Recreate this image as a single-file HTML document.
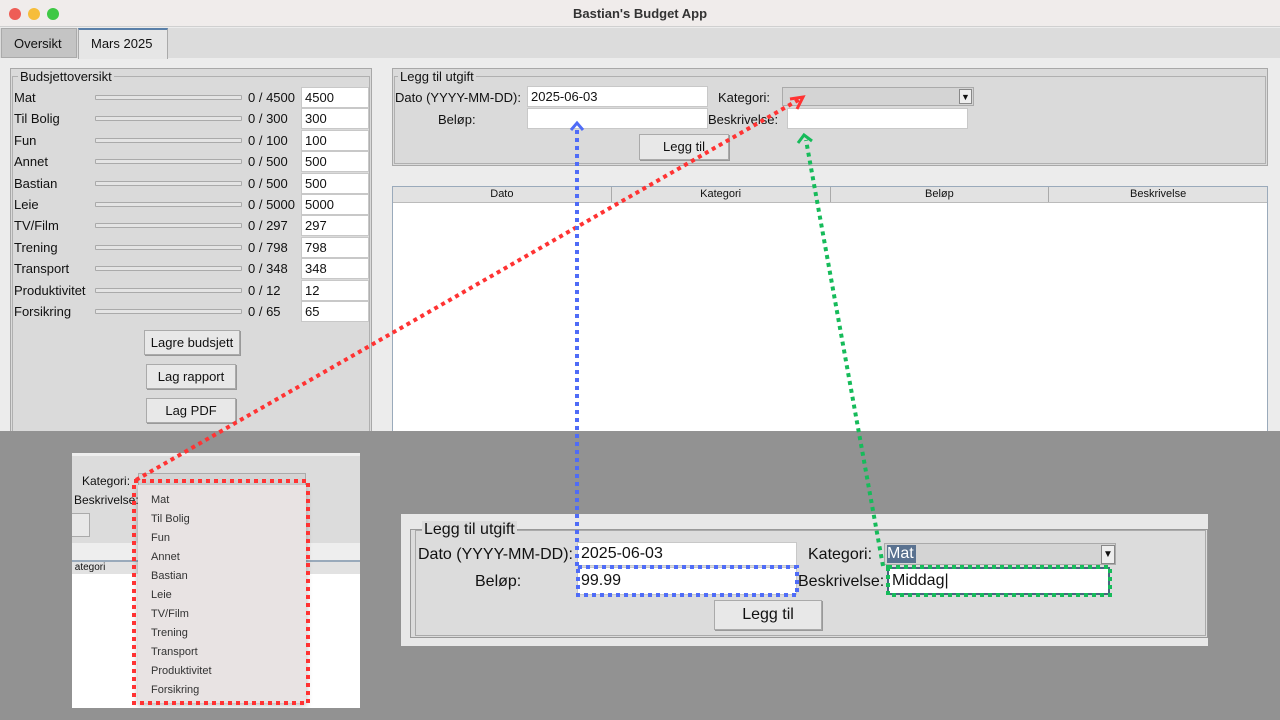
<!DOCTYPE html>
<html><head><meta charset="utf-8"><style>
*{box-sizing:border-box}
body{margin:0;width:1280px;height:720px;position:relative;overflow:hidden;background:#ececec;font-family:"Liberation Sans",sans-serif;color:#111}
.a{position:absolute}
.t{position:absolute;font-size:13px;white-space:nowrap}
.e{position:absolute;background:#fff;border:1px solid #c8c8c8;font-size:13px;padding:0 3px;line-height:19px}
.bar{position:absolute;height:5px;background:#e4e4e4;border:1px solid #aaa;border-radius:1px}
.btn{position:absolute;background:#e8e8e8;border:1px solid #aaa;box-shadow:1px 1px 0 #999;font-size:13px;text-align:center}
.fr{position:absolute;border:1px solid #a8a8a8;background:#dadada}
</style></head><body>
<div class="a" style="left:0;top:0;width:1280px;height:27px;background:#f0eceb;border-bottom:1px solid #d0d0d0"></div>
<div class="a" style="left:9px;top:8px;width:12px;height:12px;border-radius:50%;background:#ee5d56"></div>
<div class="a" style="left:28px;top:8px;width:12px;height:12px;border-radius:50%;background:#f6bd3a"></div>
<div class="a" style="left:47px;top:8px;width:12px;height:12px;border-radius:50%;background:#3ec845"></div>
<div class="t" style="left:0;width:1280px;text-align:center;top:6px;font-weight:bold;color:#333">Bastian's Budget App</div>
<div class="a" style="left:0;top:28px;width:1280px;height:30px;background:#dcdcdc"></div>
<div class="a" style="left:1px;top:28px;width:76px;height:30px;background:#c4c4c4;border:1px solid #aaa"></div>
<div class="t" style="left:14px;top:36px">Oversikt</div>
<div class="a" style="left:78px;top:28px;width:90px;height:31px;background:#e6e6e6;border:1px solid #aaa;border-top:2px solid #5a7fa8;border-bottom:none"></div>
<div class="t" style="left:91px;top:36px">Mars 2025</div>

<div class="fr" style="left:10px;top:68px;width:362px;height:370px"></div>
<div class="a" style="left:12px;top:76px;width:358px;height:360px;border:1px solid #b0b0b0"></div>
<div class="t" style="left:18px;top:69px;background:#dadada;padding:0 2px">Budsjettoversikt</div>
<div id="rows"></div>

<div class="btn" style="left:144px;top:330px;width:96px;height:25px;line-height:23px">Lagre budsjett</div>
<div class="btn" style="left:146px;top:364px;width:90px;height:25px;line-height:23px">Lag rapport</div>
<div class="btn" style="left:146px;top:398px;width:90px;height:25px;line-height:23px">Lag PDF</div>

<div class="fr" style="left:392px;top:68px;width:876px;height:98px"></div>
<div class="a" style="left:394px;top:76px;width:872px;height:88px;border:1px solid #b0b0b0"></div>
<div class="t" style="left:398px;top:69px;background:#dadada;padding:0 2px">Legg til utgift</div>
<div class="t" style="left:395px;top:90px">Dato (YYYY-MM-DD):</div>
<div class="e" style="left:527px;top:86px;width:181px;height:21px">2025-06-03</div>
<div class="t" style="left:718px;top:90px">Kategori:</div>
<div class="a" style="left:782px;top:87px;width:192px;height:19px;background:#d4d4d4;border:1px solid #aaa"></div>
<div class="a" style="left:959px;top:89px;width:13px;height:15px;background:#eee;border:1px solid #888;font-size:9px;text-align:center;line-height:14px">▼</div>
<div class="t" style="left:438px;top:112px">Beløp:</div>
<div class="e" style="left:527px;top:108px;width:181px;height:21px"></div>
<div class="t" style="left:708px;top:112px">Beskrivelse:</div>
<div class="e" style="left:787px;top:108px;width:181px;height:21px"></div>
<div class="btn" style="left:639px;top:134px;width:90px;height:26px;line-height:24px">Legg til</div>

<div class="a" style="left:392px;top:186px;width:876px;height:250px;background:#fff;border:1px solid #9aaabb"></div>
<div class="a" style="left:393px;top:187px;width:874px;height:16px;background:#e2e2e2;border-bottom:1px solid #bbb;font-size:11px;line-height:15px;display:flex">
<div style="flex:1;text-align:center;border-right:1px solid #aaa">Dato</div><div style="flex:1;text-align:center;border-right:1px solid #aaa">Kategori</div><div style="flex:1;text-align:center;border-right:1px solid #aaa">Beløp</div><div style="flex:1;text-align:center">Beskrivelse</div></div>

<div class="a" style="left:0;top:431px;width:1280px;height:289px;background:#929292"></div>

<div class="a" style="left:72px;top:453px;width:288px;height:255px;background:#fff;overflow:hidden">
<div class="a" style="left:0;top:0;width:288px;height:90px;background:#dcdcdc;border-top:3px solid #eee"></div>
<div class="t" style="left:10px;top:21px;font-size:12px">Kategori:</div>
<div class="a" style="left:66px;top:20px;width:168px;height:18px;background:#d4d4d4;border:1px solid #aaa"></div>
<div class="t" style="left:2px;top:40px;font-size:12px">Beskrivelse:</div>
<div class="a" style="left:-5px;top:60px;width:23px;height:24px;background:#e8e8e8;border:1px solid #aaa"></div>
<div class="a" style="left:0;top:90px;width:288px;height:19px;background:#eee;border-bottom:2px solid #9ab"></div>
<div class="a" style="left:0;top:109px;width:288px;height:12px;background:#e2e2e2;font-size:10px">&nbsp;ategori</div>
<div class="a" style="left:66px;top:32px;width:168px;height:218px;background:#e8e3e3;box-shadow:0 2px 6px rgba(0,0,0,.3)"></div>
</div>
<div id="menu"></div>

<div class="a" style="left:401px;top:514px;width:807px;height:132px;background:#e8e8e8"></div>
<div class="a" style="left:410px;top:529px;width:798px;height:109px;background:#dcdcdc;border:1px solid #999"></div>
<div class="a" style="left:415px;top:530px;width:791px;height:106px;border:1px solid #aaa"></div>
<div class="t" style="left:422px;top:521px;font-size:16px;background:#dcdcdc;padding:0 2px">Legg til utgift</div>
<div class="t" style="left:418px;top:546px;font-size:16px">Dato (YYYY-MM-DD):</div>
<div class="e" style="left:577px;top:542px;width:220px;height:24px;font-size:16px;line-height:22px">2025-06-03</div>
<div class="t" style="left:808px;top:546px;font-size:16px">Kategori:</div>
<div class="a" style="left:884px;top:543px;width:232px;height:22px;background:#d4d4d4;border:1px solid #aaa"></div>
<div class="a" style="left:887px;top:545px;width:29px;height:18px;background:#5a7290;color:#fff;font-size:16px;line-height:18px">Mat</div>
<div class="a" style="left:1101px;top:545px;width:14px;height:19px;background:#eee;border:1px solid #888;font-size:10px;text-align:center;line-height:18px">▼</div>
<div class="t" style="left:475px;top:573px;font-size:16px">Beløp:</div>
<div class="e" style="left:577px;top:567px;width:220px;height:28px;font-size:16px;line-height:26px">99.99</div>
<div class="t" style="left:798px;top:573px;font-size:16px">Beskrivelse:</div>
<div class="e" style="left:887px;top:567px;width:223px;height:28px;font-size:16px;line-height:24px;border:2px solid #4a6580">Middag|</div>
<div class="btn" style="left:714px;top:600px;width:108px;height:30px;line-height:28px;font-size:16px">Legg til</div>

<svg class="a" style="left:0;top:0" width="1280" height="720">
<g fill="none" stroke-width="4" stroke-dasharray="4 4">
<rect x="134" y="481" width="174" height="222" stroke="#ff3333"/>
<path d="M136 480 L800 99" stroke="#ff3333"/>
<path d="M790 99 L803 97 L797 109" stroke="#ff3333" stroke-dasharray="none" stroke-width="3"/>
<rect x="578" y="567" width="219" height="28" stroke="#4f6cf7"/>
<path d="M577 566 L577 128" stroke="#4f6cf7"/>
<path d="M571 130 L577 123 L583 130" stroke="#4f6cf7" stroke-dasharray="none" stroke-width="3"/>
<rect x="888" y="567" width="222" height="28" stroke="#16bb5a"/>
<path d="M883 566 L806 140" stroke="#16bb5a"/>
<path d="M798 143 L804 135 L812 141" stroke="#16bb5a" stroke-dasharray="none" stroke-width="3"/>
</g></svg>

<script>
var r=[["Mat",4500],["Til Bolig",300],["Fun",100],["Annet",500],["Bastian",500],["Leie",5000],["TV/Film",297],["Trening",798],["Transport",348],["Produktivitet",12],["Forsikring",65]];
var h="";r.forEach(function(x,i){var y=97+i*21.4;
h+='<div class="t" style="left:14px;top:'+(y-7)+'px">'+x[0]+'</div><div class="bar" style="left:95px;top:'+(y-2)+'px;width:147px"></div><div class="t" style="left:248px;top:'+(y-7)+'px">0 / '+x[1]+'</div><div class="e" style="left:301px;top:'+(y-10)+'px;width:68px;height:21px">'+x[1]+'</div>';});
document.getElementById("rows").innerHTML=h;
var m=["Mat","Til Bolig","Fun","Annet","Bastian","Leie","TV/Film","Trening","Transport","Produktivitet","Forsikring"];h="";
m.forEach(function(x,i){h+='<div class="t" style="left:151px;top:'+(494+i*19)+'px;font-size:11px;color:#333">'+x+'</div>';});
document.getElementById("menu").innerHTML=h;
</script>
</body></html>
